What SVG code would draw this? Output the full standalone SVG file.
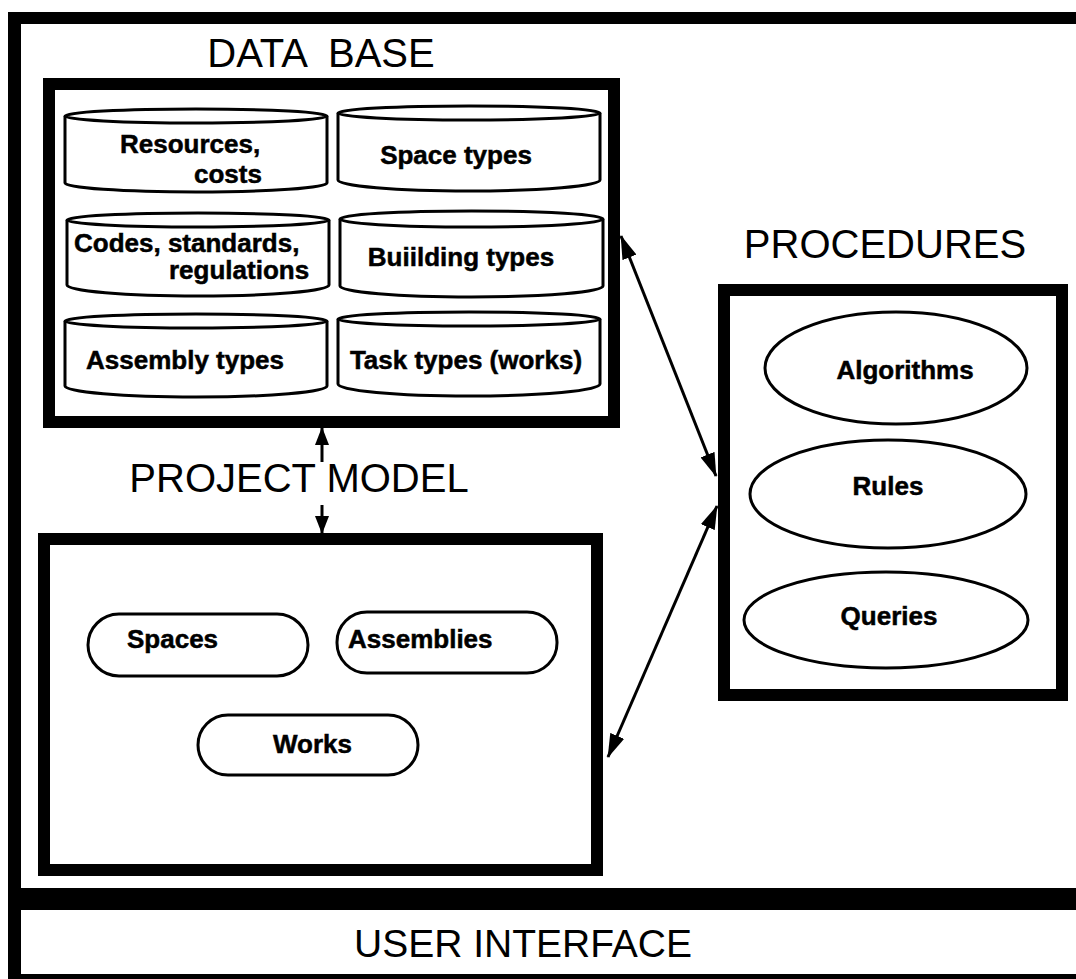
<svg xmlns="http://www.w3.org/2000/svg" width="1076" height="979" viewBox="0 0 1076 979">
<style>
.title{font-family:"Liberation Sans",Arial,sans-serif;font-size:40px;fill:#000}
.lbl{font-family:"Liberation Sans",Arial,sans-serif;font-size:26px;font-weight:bold;fill:#000;stroke:#000;stroke-width:0.5}
.box{fill:none;stroke:#000;stroke-width:12}
.cyl{fill:#fff;stroke:#000;stroke-width:3}
.shape{fill:#fff;stroke:#000;stroke-width:3}
.conn{stroke:#000;stroke-width:3;fill:none}
</style>
<defs>
<marker id="ah" viewBox="0 0 24 15" refX="23" refY="7.5" markerWidth="24" markerHeight="15" markerUnits="userSpaceOnUse" orient="auto-start-reverse">
<path d="M0,0 L24,7.5 L0,15 z" fill="#000"/>
</marker>
<marker id="ahs" viewBox="0 0 18 14" refX="17" refY="7" markerWidth="18" markerHeight="14" markerUnits="userSpaceOnUse" orient="auto-start-reverse">
<path d="M0,0 L18,7 L0,14 z" fill="#000"/>
</marker>
</defs>
<rect width="1076" height="979" fill="#fff"/>

<g id="frame">
<rect x="8" y="12" width="1068" height="12" fill="#000"/>
<rect x="8" y="12" width="13" height="967" fill="#000"/>
<rect x="8" y="888" width="1068" height="22" fill="#000"/>
<rect x="8" y="974" width="1068" height="5" fill="#000"/>
</g>

<g id="database">
<text class="title" x="321" y="67" text-anchor="middle" xml:space="preserve">DATA  BASE</text>
<rect class="box" x="49" y="84" width="565" height="338"/>
</g>

<g id="db-resources">
<path class="cyl" d="M65,116 L65,183 A131,9 0 0 0 327,183 L327,116"/>
<ellipse class="cyl" cx="196" cy="116" rx="131" ry="7"/>
<text class="lbl" x="120" y="153">Resources,</text>
<text class="lbl" x="194" y="183">costs</text>
</g>
<g id="db-space-types">
<path class="cyl" d="M338,113 L338,180 A131,11 0 0 0 600,180 L600,113"/>
<ellipse class="cyl" cx="469" cy="113" rx="131" ry="7"/>
<text class="lbl" x="456" y="164" text-anchor="middle">Space types</text>
</g>
<g id="db-codes">
<path class="cyl" d="M67,220 L67,285 A131,11 0 0 0 329,285 L329,220"/>
<ellipse class="cyl" cx="198" cy="220" rx="131" ry="7"/>
<text class="lbl" x="74" y="252">Codes, standards,</text>
<text class="lbl" x="169" y="279">regulations</text>
</g>
<g id="db-building-types">
<path class="cyl" d="M340,219 L340,286 A131.5,11 0 0 0 603,286 L603,219"/>
<ellipse class="cyl" cx="471.5" cy="219" rx="131.5" ry="8"/>
<text class="lbl" x="461" y="266" text-anchor="middle">Buiilding types</text>
</g>
<g id="db-assembly-types">
<path class="cyl" d="M65,321 L65,386 A131,11 0 0 0 327,386 L327,321"/>
<ellipse class="cyl" cx="196" cy="321" rx="131" ry="7"/>
<text class="lbl" x="185" y="369" text-anchor="middle">Assembly types</text>
</g>
<g id="db-task-types">
<path class="cyl" d="M338,319 L338,384 A131,12 0 0 0 600,384 L600,319"/>
<ellipse class="cyl" cx="469" cy="319" rx="131" ry="7"/>
<text class="lbl" x="466" y="369" text-anchor="middle">Task types (works)</text>
</g>

<g id="procedures">
<text class="title" x="885" y="258" text-anchor="middle">PROCEDURES</text>
<rect class="box" x="724" y="290" width="338" height="405"/>
</g>
<g id="proc-algorithms">
<ellipse class="shape" cx="896" cy="368" rx="131" ry="56"/>
<text class="lbl" x="905" y="379" text-anchor="middle">Algorithms</text>
</g>
<g id="proc-rules">
<ellipse class="shape" cx="888" cy="494" rx="138" ry="54"/>
<text class="lbl" x="888" y="495" text-anchor="middle">Rules</text>
</g>
<g id="proc-queries">
<ellipse class="shape" cx="886" cy="620" rx="142" ry="48"/>
<text class="lbl" x="889" y="625" text-anchor="middle">Queries</text>
</g>

<g id="project-model">
<text class="title" x="299" y="492" text-anchor="middle">PROJECT MODEL</text>
<rect class="box" x="44" y="539" width="553" height="331"/>
</g>
<g id="pm-spaces">
<rect class="shape" x="88" y="614" width="220" height="62" rx="31"/>
<text class="lbl" x="127" y="648">Spaces</text>
</g>
<g id="pm-assemblies">
<rect class="shape" x="337" y="612" width="220" height="61" rx="30"/>
<text class="lbl" x="348" y="648">Assemblies</text>
</g>
<g id="pm-works">
<rect class="shape" x="198" y="715" width="220" height="60" rx="30"/>
<text class="lbl" x="273" y="753">Works</text>
</g>

<g id="user-interface">
<text class="title" x="523" y="957" text-anchor="middle" style="font-size:39px">USER INTERFACE</text>
</g>

<g id="connectors">
<line class="conn" x1="621" y1="236" x2="716" y2="476" marker-start="url(#ah)" marker-end="url(#ah)"/>
<line class="conn" x1="717" y1="506" x2="608" y2="757" marker-start="url(#ah)" marker-end="url(#ah)"/>
<line class="conn" x1="322" y1="462" x2="322" y2="428" marker-end="url(#ahs)"/>
<line class="conn" x1="322" y1="505" x2="322" y2="533" marker-end="url(#ahs)"/>
</g>
</svg>
